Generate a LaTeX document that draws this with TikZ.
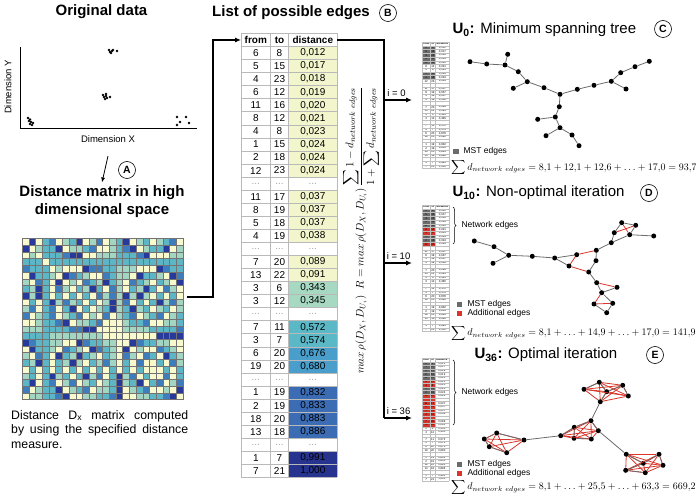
\documentclass[tikz,border=0pt]{standalone}
\usepackage{amsmath}
\usepackage{fontspec}
\setmainfont{Liberation Sans}
\usetikzlibrary{positioning,arrows.meta,decorations.pathreplacing}

\definecolor{tabA}{HTML}{F3F6CC}
\definecolor{tabB}{HTML}{A6D8C2}
\definecolor{tabC}{HTML}{5BB8C6}
\definecolor{tabD}{HTML}{4A9ECB}
\definecolor{tabE}{HTML}{3B6CB4}
\definecolor{tabF}{HTML}{27348F}
\definecolor{mat0}{HTML}{F8F9CC}
\definecolor{mat1}{HTML}{A3D6C2}
\definecolor{mat2}{HTML}{5CB6C6}
\definecolor{mat3}{HTML}{3D7DBE}
\definecolor{mat4}{HTML}{27399A}
\definecolor{mstgrey}{HTML}{6B6B6B}
\definecolor{addred}{HTML}{D9352A}

\tikzset{
  ttl/.style={font=\bfseries\fontsize{15}{18}\selectfont,align=center},
  panelttl/.style={anchor=west,font=\fontsize{15}{18}\selectfont},
  circlab/.style={circle,draw,line width=0.6pt,inner sep=0pt,minimum size=17pt,font=\bfseries\fontsize{10.5}{10.5}\selectfont},
  axlab/.style={font=\fontsize{9.5}{10}\selectfont},
  datum/.style={circle,fill=black,inner sep=0pt,minimum size=2.6pt},
  vertex/.style={circle,fill=black,inner sep=0pt,minimum size=5pt},
  mstedge/.style={draw=mstgrey,line width=0.8pt},
  addedge/.style={draw=addred,line width=0.8pt},
  tabtxt/.style={font=\fontsize{10}{10}\selectfont,inner sep=0pt},
  tabline/.style={draw=gray!55,line width=0.6pt},
  matgrid/.style={draw=black!55,line width=0.3pt},
  flow/.style={line width=1.1pt,-{Latex[length=6pt,width=5pt]}},
  legbox/.style={inner sep=0pt,minimum size=5.5pt},
  legtxt/.style={anchor=west,font=\fontsize{8.5}{9}\selectfont},
  sumtxt/.style={anchor=west,inner sep=0pt,font=\fontsize{10.3}{12}\selectfont},
  ilab/.style={font=\fontsize{9.5}{10}\selectfont,above}
}

\def\ty{33.4}
\def\rh{13.06}
\newcommand\gdots{\textcolor{gray!70}{...}}
\def\edgerows{6/8/{0,012}/tabA, 5/15/{0,017}/tabA, 4/23/{0,018}/tabA,
  6/12/{0,019}/tabA, 11/16/{0,020}/tabA, 8/12/{0,021}/tabA, 4/8/{0,023}/tabA,
  1/15/{0,024}/tabA, 2/18/{0,024}/tabA, 12/23/{0,024}/tabA, \gdots/\gdots/\gdots/white,
  11/17/{0,037}/tabA, 8/19/{0,037}/tabA, 5/18/{0,037}/tabA, 4/19/{0,038}/tabA,
  \gdots/\gdots/\gdots/white, 7/20/{0,089}/tabA, 13/22/{0,091}/tabA,
  3/6/{0,343}/tabB, 3/12/{0,345}/tabB, \gdots/\gdots/\gdots/white,
  7/11/{0,572}/tabC, 3/7/{0,574}/tabC, 6/20/{0,676}/tabD, 19/20/{0,680}/tabD,
  \gdots/\gdots/\gdots/white, 1/19/{0,832}/tabE, 2/19/{0,833}/tabE,
  18/20/{0,883}/tabE, 13/18/{0,886}/tabE, \gdots/\gdots/\gdots/white,
  1/7/{0,991}/tabF, 7/21/{1,000}/tabF}

% text and rules of the edge list, drawn at full size
\newcommand\edgetable[1]{%
  \node[tabtxt,font=\bfseries\fontsize{10}{10}\selectfont] (#1hf) at (255.8,\ty+\rh/2) {from};
  \node[tabtxt,font=\bfseries\fontsize{10}{10}\selectfont] (#1ht) at (279.5,\ty+\rh/2) {to};
  \node[tabtxt,font=\bfseries\fontsize{10}{10}\selectfont] (#1hd) at (312.8,\ty+\rh/2) {distance};
  \foreach \na/\nb/\dd/\cc [count=\k] in \edgerows {
    \node[tabtxt] (#1f\k) at (255.8,\ty+\rh*\k+\rh/2) {\na};
    \node[tabtxt] (#1t\k) at (279.5,\ty+\rh*\k+\rh/2) {\nb};
    \node[tabtxt] (#1d\k) at (312.8,\ty+\rh*\k+\rh/2) {\dd};
  }
  \foreach \k in {0,...,34}
    \draw[tabline] (241,\ty+\rh*\k) -- (337.3,\ty+\rh*\k);
  \foreach \x in {241,270.7,288.3,337.3}
    \draw[tabline] (\x,\ty) -- (\x,\ty+\rh*34);
}

\begin{document}
\begin{tikzpicture}[x=1pt,y=-1pt]
\useasboundingbox (0,0) rectangle (696,497);

% original data
\node[ttl] (ttlorig) at (101.5,12) {Original data};
\coordinate (origin) at (20,128);
\draw[line width=0.7pt] (20,47) -- (origin) -- (197,128);
\node[axlab,rotate=90] (dimy) at (8,87) {Dimension Y};
\node[axlab] (dimx) at (108,139) {Dimension X};
\foreach \x/\y [count=\n] in {28/118,30/119.5,29/121,31/122,30/124,32/125,33/123,
  109/50,110/52,112/51,111/53,113/50,117/51,
  103/95,104/97,106/96,105/99,107/98,110/97,106/94,
  177/117,186/117,180/122,189/123,177/125}
  \node[datum] (p\n) at (\x,\y) {};

% distance matrix
\node[ttl] (distttl) at (102,202) {Distance matrix in high\\dimensional space};
\draw[flow,line width=0.8pt,-{Latex[length=5pt,width=4pt]}] ([yshift=-10pt]dimx.south) -- (distttl.north);
\node[circlab] (labA) at (127,170) {A};
\node[inner sep=0pt,outer sep=0pt,minimum size=161pt] (mat) at (102.5,319) {};
\foreach \i in {1,...,24}
  \foreach \j in {1,...,24} {
    \pgfmathtruncatemacro\h{mod(\i*\j*7+(\i+\j)*3+int(\i*\j/4),8)}
    \pgfmathtruncatemacro\v{\i==\j ? 0 : (\h<2 ? 0 : (\h<4 ? 1 : (\h<6 ? 2 : \h-3)))}
    \fill[mat\v] (22+\j*6.7083-6.7083,238.5+\i*6.7083-6.7083) rectangle ++(6.7083,6.7083);
  }
\foreach \k in {0,...,24} {
  \draw[matgrid] (22+\k*6.7083,238.5) -- ++(0,161);
  \draw[matgrid] (22,238.5+\k*6.7083) -- ++(161,0);
}
\node[anchor=north west,text width=177pt,align=justify,inner sep=0pt,
  font=\fontsize{12.3}{14.5}\selectfont] (caption) at (11,410)
  {\hyphenpenalty=10000 Distance D\textsubscript{x} matrix computed\linebreak
   by using the specified distance\linebreak measure.};

% list of possible edges
\node[ttl] (ttllist) at (291,13) {List of possible edges};
\node[circlab] (labB) at (388,13) {B};
\node[inner sep=0pt,outer sep=0pt,anchor=north west,minimum width=96.3pt,minimum height=444pt] (tab) at (241,\ty) {};
\foreach \na/\nb/\dd/\cc [count=\k] in \edgerows
  \fill[\cc] (288.3,\ty+\rh*\k) rectangle ++(49,\rh);
\edgetable{m}
\coordinate (bend) at (213,40);
\draw[flow] ([xshift=4pt,yshift=22pt]mat.east) -| (bend) -- (bend -| tab.west);

\node[rotate=90,font=\fontsize{11}{13}\selectfont] (crit) at (361,230)
  {$max\,\rho(D_X, D_{U_i})\;\; R = max\,\rho(D_X, D_{U_i})\,
   \dfrac{\displaystyle\sum 1 - d_{network\ edges}}{1 + \displaystyle\sum d_{network\ edges}}$};

% iterations
\coordinate (top) at (384,40);
\coordinate (splitC) at (384,100);
\coordinate (splitD) at (384,263);
\coordinate (splitE) at (384,418);
\draw[line width=1.1pt] (tab.east |- top) -- (top) -- (splitE);
\draw[flow] (splitC) -- ++(28,0) node[ilab,pos=0.45] {i = 0};
\draw[flow] (splitD) -- ++(28,0) node[ilab,pos=0.52] {i = 10};
\draw[flow] (splitE) -- ++(28,0) node[ilab,pos=0.52] {i = 36};

% U0
\node[panelttl] (ttlC) at (449,30) {\textbf{U\textsubscript{0}:} Minimum spanning tree};
\node[circlab] (labC) at (663,29) {C};
\begin{scope}[shift={(353.3,32.5)},scale=0.285,transform shape,tabline/.style={draw=gray!50,line width=0.2pt}]
  \foreach \k in {1,...,5,8,9}
    \fill[mstgrey] (241,\ty+\rh*\k) rectangle ++(47.3,\rh);
  \edgetable{c}
\end{scope}
\foreach \n/\x/\y in {c1/470/61.7, c2/486.7/64, c3/505/65, c4/507.7/54.3,
  c5/518.3/71.7, c6/527.3/81.7, c7/513.3/88.3, c8/544/87.7, c9/560/94.3,
  c10/577.3/89.3, c11/594/85.3, c12/611.3/81.3, c13/626/89, c14/620.7/72.7,
  c15/635/66.7, c16/649.3/61.3, c17/559.3/106.7, c18/555.3/117, c19/537.7/119.3,
  c20/560/127.7, c21/546/135.7, c22/572/135, c23/579/145.7}
  \node[vertex] (\n) at (\x,\y) {};
\foreach \a/\b in {c1/c2, c2/c3, c3/c4, c3/c5, c5/c6, c6/c7, c6/c8, c8/c9,
  c9/c10, c10/c11, c11/c12, c12/c13, c12/c14, c14/c15, c15/c16, c9/c17,
  c17/c18, c18/c19, c18/c20, c20/c21, c20/c22, c22/c23}
  \draw[mstedge] (\a) -- (\b);
\node[legbox,fill=mstgrey] (legC) at (456,151.7) {};
\node[legtxt] (legCt) at (460,151.7) {MST edges};
\node[sumtxt] (sumC) at (451,168)
  {$\displaystyle\sum d_{network\ edges} = 8{,}1 + 12{,}1 + 12{,}6 + \ldots + 17{,}0 = 93{,}7$};

% U10
\node[panelttl] (ttlD) at (449,193) {\textbf{U\textsubscript{10}:} Non-optimal iteration};
\node[circlab] (labD) at (649,193) {D};
\begin{scope}[shift={(353.3,195.5)},scale=0.285,transform shape,tabline/.style={draw=gray!50,line width=0.2pt}]
  \foreach \k in {1,...,5,8,9}
    \fill[mstgrey] (241,\ty+\rh*\k) rectangle ++(47.3,\rh);
  \foreach \k in {6,7,10}
    \fill[addred] (241,\ty+\rh*\k) rectangle ++(47.3,\rh);
  \edgetable{d}
\end{scope}
\draw[decorate,decoration={brace,amplitude=3pt},line width=0.5pt] (453,207) -- (453,244) coordinate[midway] (braceD);
\node[legtxt] (netD) at (458,225) {Network edges};
\foreach \n/\x/\y in {d1/474.3/241, d2/494/246.7, d3/508.7/255.3, d4/493/263.3,
  d5/532.3/256.3, d6/554.7/258, d7/576.7/254.7, d8/569/266, d9/596.3/250.3,
  d10/596/260.7, d11/588.7/272, d12/611.3/242.7, d13/614.3/232.7, d14/621.7/222.7,
  d15/635.7/225.3, d16/629.7/234.7, d17/653.7/236, d18/596.7/282.7, d19/617/287.3,
  d20/601.7/292.7, d21/612.7/303.3, d22/594/304, d23/606.7/312.7}
  \node[vertex] (\n) at (\x,\y) {};
\foreach \a/\b in {d1/d2, d2/d3, d3/d4, d3/d5, d5/d6, d6/d7, d6/d8, d9/d10,
  d10/d11, d9/d12, d12/d13, d13/d14, d14/d15, d15/d16, d16/d17, d12/d16,
  d11/d18, d18/d20, d20/d21, d21/d23, d22/d23, d19/d20}
  \draw[mstedge] (\a) -- (\b);
\foreach \a/\b in {d7/d9, d7/d8, d8/d11, d13/d15, d14/d16, d18/d19, d20/d22, d21/d22}
  \draw[addedge] (\a) -- (\b);
\node[legbox,fill=mstgrey] (legD1) at (459.3,304.3) {};
\node[legtxt] (legD1t) at (464,304.3) {MST edges};
\node[legbox,fill=addred] (legD2) at (459.3,313.7) {};
\node[legtxt] (legD2t) at (464,313.7) {Additional edges};
\node[sumtxt] (sumD) at (451,333)
  {$\displaystyle\sum d_{network\ edges} = 8{,}1 + \ldots + 14{,}9 + \ldots + 17{,}0 = 141{,}9$};

% U36
\node[panelttl] (ttlE) at (471,355) {\textbf{U\textsubscript{36}:} Optimal iteration};
\node[circlab] (labE) at (655,355) {E};
\begin{scope}[shift={(355.2,348.75)},scale=0.277,transform shape,tabline/.style={draw=gray!50,line width=0.2pt}]
  \foreach \k in {1,...,5,8,9}
    \fill[mstgrey] (241,\ty+\rh*\k) rectangle ++(47.3,\rh);
  \foreach \k in {6,7,10,11,...,18}
    \fill[addred] (241,\ty+\rh*\k) rectangle ++(47.3,\rh);
  \edgetable{e}
\end{scope}
\draw[decorate,decoration={brace,amplitude=3pt},line width=0.5pt] (453,360) -- (453,425) coordinate[midway] (braceE);
\node[legtxt] (netE) at (458,392) {Network edges};
\foreach \n/\x/\y in {et1/584/389.3, et2/599.3/382.3, et3/606.7/391.7, et4/622.7/385.3,
  et5/628.3/396, et6/600.3/401.7,
  em1/591/420.7, em2/574.3/427.3, em3/560.7/435.7, em4/574/438.3, em5/598.3/430.7, em6/591.3/439,
  el1/496.7/433, el2/484.3/439, el3/524/440, el4/489.3/446.7, el5/506.7/452.7,
  er1/626.3/454.3, er2/659/454.3, er3/643.3/463.3, er4/663/465.3, er5/625.7/470.3, er6/645.3/472.7}
  \node[vertex] (\n) at (\x,\y) {};
\foreach \g/\m in {et/6,em/6,el/5,er/6}
  \foreach \i in {1,...,\m}
    \foreach \j in {1,...,\m} {
      \ifnum\i<\j \draw[addedge] (\g\i) -- (\g\j); \fi
    }
\foreach \a/\b in {et6/em1, el3/em3, em5/er1, et1/et2, et2/et3, et3/et4, et4/et5,
  et3/et6, em1/em2, em2/em3, em2/em4, em4/em6, em1/em5, el1/el2, el2/el4,
  el4/el5, el1/el3, er1/er3, er3/er5, er5/er6, er3/er2, er2/er4}
  \draw[mstedge] (\a) -- (\b);
\node[legbox,fill=mstgrey] (legE1) at (459.3,464.3) {};
\node[legtxt] (legE1t) at (464,464.3) {MST edges};
\node[legbox,fill=addred] (legE2) at (459.3,473.7) {};
\node[legtxt] (legE2t) at (464,473.7) {Additional edges};
\node[sumtxt] (sumE) at (451,487)
  {$\displaystyle\sum d_{network\ edges} = 8{,}1 + \ldots + 25{,}5 + \ldots + 63{,}3 = 669{,}2$};
\end{tikzpicture}
\end{document}
